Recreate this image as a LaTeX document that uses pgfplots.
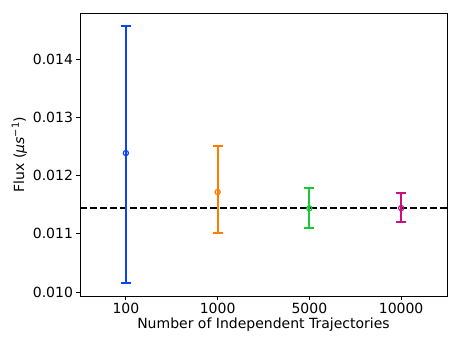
\documentclass[border=0pt]{standalone}
\usepackage{pgfplots}
\pgfplotsset{compat=1.18}
\usepackage{fontspec}
\setmainfont{DejaVu Sans}

\definecolor{cblue}{HTML}{0A45F5}
\definecolor{corange}{HTML}{FF7C00}
\definecolor{cgreen}{HTML}{1AC938}
\definecolor{cmag}{HTML}{C8107E}

\pgfplotsset{ebar/.style={draw=#1,color=#1,only marks,mark=o,mark size=2.6pt,
  mark options={draw=#1,line width=1.2pt},
  error bars/.cd,y dir=both,y explicit,
  error bar style={draw=#1,line width=2pt},
  error mark options={draw=#1,line width=2pt,mark size=5pt,rotate=90}}}

\begin{document}
\begin{tikzpicture}
\path[use as bounding box] (-80pt,-50pt) rectangle (381pt,296pt);
\begin{axis}[at={(0,0)},anchor=south west,scale only axis,width=367pt,height=283pt,
  xmin=-0.5,xmax=3.5,ymin=0.00993,ymax=0.01479,
  xtick={0,1,2,3},xticklabels={100,1000,5000,10000},
  ytick={0.010,0.011,0.012,0.013,0.014},
  yticklabel style={/pgf/number format/.cd,fixed,fixed zerofill,precision=3},
  scaled y ticks=false,
  /pgf/number format/assume math mode=true,
  tick label style={font=\fontsize{14}{16}\selectfont},
  label style={font=\fontsize{14}{16}\selectfont},
  xlabel={Number of Independent Trajectories},
  ylabel={Flux (\textit{μs}\textsuperscript{−1})},
  xlabel style={yshift=3pt},ylabel style={yshift=-1pt},
  tick align=outside,xtick pos=bottom,ytick pos=left,
  major tick length=3.5pt,tick style={black,line width=0.8pt},
  axis line style={line width=0.8pt},
]
\addplot[black,line width=2pt,dash pattern=on 7pt off 3pt,forget plot] coordinates {(-0.5,0.011435) (3.5,0.011435)};
\addplot[ebar=cblue] coordinates {(0,0.012385) += (0,0.00218) -= (0,0.00224)};
\addplot[ebar=corange] coordinates {(1,0.011715) += (0,0.000795) -= (0,0.00071)};
\addplot[ebar=cgreen] coordinates {(2,0.011435) += (0,0.000343) -= (0,0.000344)};
\addplot[ebar=cmag] coordinates {(3,0.011440) += (0,0.000258) -= (0,0.000234)};
\end{axis}
\end{tikzpicture}
\end{document}
